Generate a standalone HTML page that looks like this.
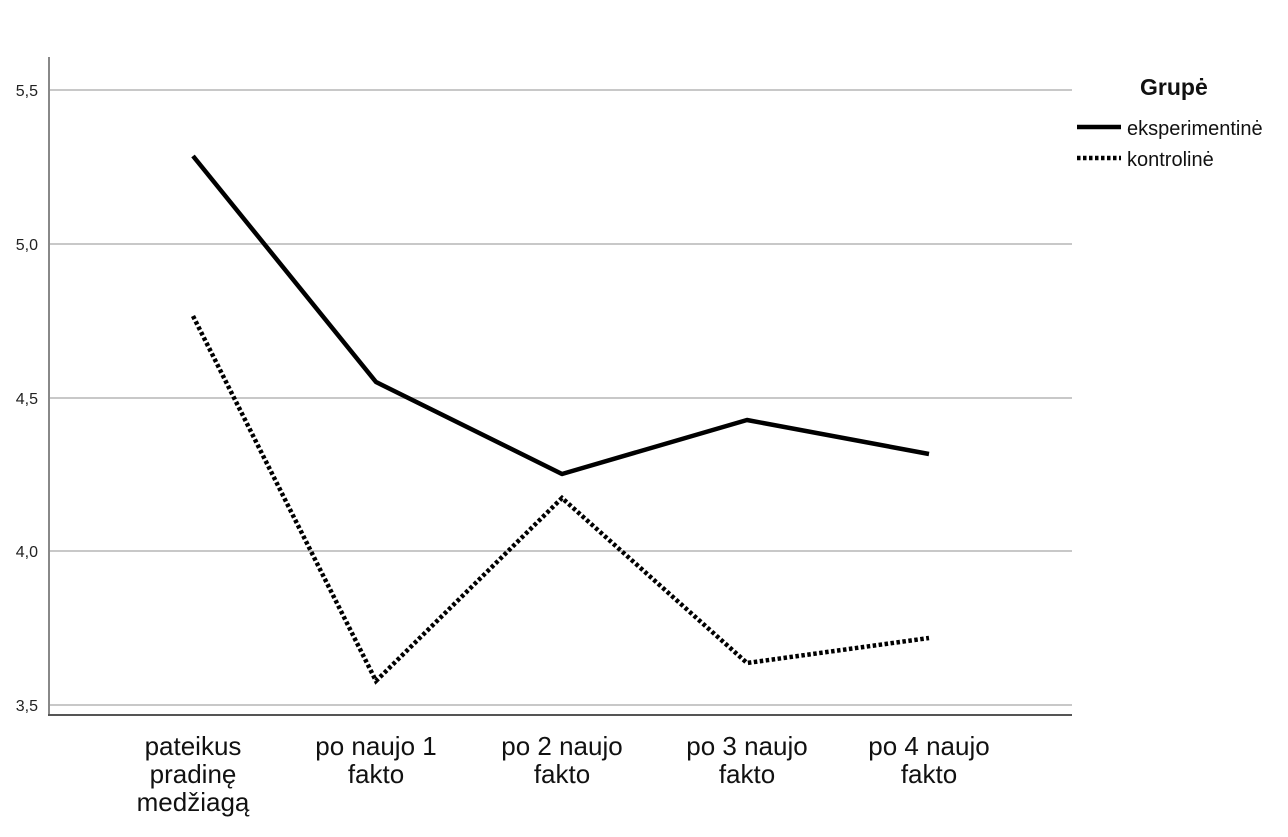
<!DOCTYPE html>
<html><head><meta charset="utf-8"><style>body{margin:0;background:#fff}</style></head><body>
<svg width="1288" height="832" xmlns="http://www.w3.org/2000/svg" font-family="Liberation Sans, DejaVu Sans, sans-serif">
<rect width="1288" height="832" fill="#fff"/>
<g stroke="#c8c8c8" stroke-width="2">
<line x1="49" y1="90" x2="1072" y2="90"/>
<line x1="49" y1="244" x2="1072" y2="244"/>
<line x1="49" y1="398" x2="1072" y2="398"/>
<line x1="49" y1="551" x2="1072" y2="551"/>
<line x1="49" y1="705" x2="1072" y2="705"/>
</g>
<line x1="49" y1="57" x2="49" y2="715" stroke="#888" stroke-width="2"/>
<line x1="48" y1="715" x2="1072" y2="715" stroke="#555" stroke-width="2"/>
<g font-size="16" fill="#222" text-anchor="end">
<text x="38" y="96">5,5</text>
<text x="38" y="250">5,0</text>
<text x="38" y="404">4,5</text>
<text x="38" y="557">4,0</text>
<text x="38" y="711">3,5</text>
</g>
<g font-size="26" fill="#111" text-anchor="middle">
<text x="193" y="755">pateikus</text><text x="193" y="783">pradinę</text><text x="193" y="811">medžiagą</text>
<text x="376" y="755">po naujo 1</text><text x="376" y="783">fakto</text>
<text x="562" y="755">po 2 naujo</text><text x="562" y="783">fakto</text>
<text x="747" y="755">po 3 naujo</text><text x="747" y="783">fakto</text>
<text x="929" y="755">po 4 naujo</text><text x="929" y="783">fakto</text>
</g>
<polyline points="193,156 376,382 562,474 747,420 929,454" fill="none" stroke="#000" stroke-width="4.5" stroke-linejoin="round"/>
<polyline points="193,316 376,681 562,498 747,663 929,638" fill="none" stroke="#000" stroke-width="4.5" stroke-dasharray="3.5,2.5"/>
<text x="1140" y="95" font-size="23" font-weight="bold" fill="#111">Grupė</text>
<line x1="1077" y1="127" x2="1121" y2="127" stroke="#000" stroke-width="4.5"/>
<line x1="1077" y1="158" x2="1121" y2="158" stroke="#000" stroke-width="4.5" stroke-dasharray="3.5,2.5"/>
<g font-size="20" fill="#111"><text x="1127" y="135">eksperimentinė</text><text x="1127" y="166">kontrolinė</text></g>
</svg>
</body></html>
